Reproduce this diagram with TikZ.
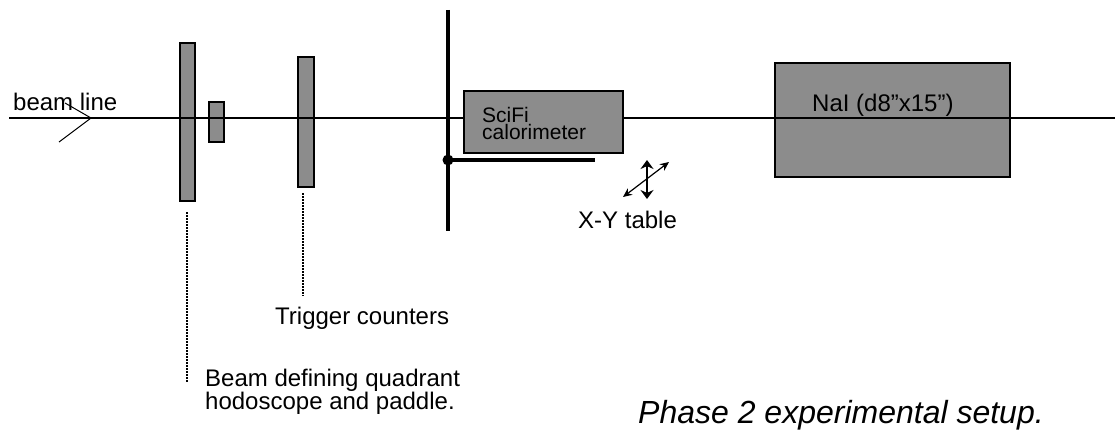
\documentclass[tikz,border=0pt]{standalone}
\usepackage{fontspec}
\setmainfont{Liberation Sans}
\usetikzlibrary{arrows.meta}
\tikzset{
  absorber/.style={draw=black,line width=1.6pt,fill=black!45,inner sep=0pt,anchor=north west},
  leader/.style={line width=1.5pt,dash pattern=on 2pt off 1pt},
  lbl/.style={inner sep=0pt,anchor=west,font=\fontsize{24}{24}\selectfont}
}
% #1 name, #2 #3 top left corner, #4 width, #5 height
\newcommand{\absorber}[5]{\node[absorber,minimum width=#4pt,minimum height=#5pt] (#1) at (#2,#3) {};}
\begin{document}
\begin{tikzpicture}[x=1pt,y=-1pt]
\useasboundingbox (0,0) rectangle (1115,433);
% counters and the calorimeters
\absorber{hodo}{179}{42}{15}{158}
\absorber{paddle}{208}{101}{15}{40}
\absorber{trigger}{297}{56}{16}{130}
\absorber{nai}{774}{62}{235}{114}
% beam line
\coordinate (beamstart) at (9,118);
\coordinate (beamend) at (1115,118);
\coordinate (tip) at (91,118);
\coordinate (barbup) at (65,103);
\coordinate (barbdown) at (59,142);
\draw[line width=1.5pt] (beamstart) -- (beamend);
\draw[line width=1pt] (barbup) -- (tip) -- (barbdown);
\absorber{scifi}{463}{90}{159}{62}
% table
\coordinate (postup) at (448,10);
\coordinate (postdown) at (448,231);
\coordinate (shelfend) at (595,160);
\node[circle,fill=black,inner sep=0pt,minimum size=11pt] (pivot) at (448,160) {};
\draw[line width=4.5pt] (postup) -- (postdown);
\draw[line width=4pt] (pivot.center) -- (shelfend);
% X-Y arrows
\coordinate (yup) at (647,160);
\coordinate (ydown) at (647,199);
\coordinate (xleft) at (623,197);
\coordinate (xright) at (669,162);
\draw[line width=2.6pt,{Stealth[length=9pt,width=13pt]}-{Stealth[length=9pt,width=13pt]}] (ydown) -- (yup);
\draw[line width=1.2pt,{Stealth[length=9pt,width=8pt]}-{Stealth[length=9pt,width=8pt]}] (xleft) -- (xright);
% leaders
\coordinate (hodoend) at (187,382);
\coordinate (trigend) at (303,296);
\coordinate (hodotop) at (187,212);
\coordinate (trigtop) at (303,193);
\draw[leader] (hodotop) -- (hodoend);
\draw[leader] (trigtop) -- (trigend);
% labels
\node[lbl] (beamlbl) at (13,102) {beam line};
\node[lbl,font=\fontsize{21}{17}\selectfont,align=left] (scifilbl) at (482,123) {SciFi\\calorimeter};
\node[lbl] (nailbl) at (812,105) {NaI (d8"x15")};
\node[lbl] (tablelbl) at (578,220) {X-Y table};
\node[lbl] (triglbl) at (275,318) {Trigger counters};
\node[lbl,font=\fontsize{24}{17}\selectfont,align=left] (hodolbl) at (205,392) {Beam defining quadrant\\hodoscope and paddle.};
\node[lbl,font=\fontsize{32}{32}\selectfont\itshape] (phaselbl) at (638,415) {Phase 2 experimental setup.};
\end{tikzpicture}
\end{document}
